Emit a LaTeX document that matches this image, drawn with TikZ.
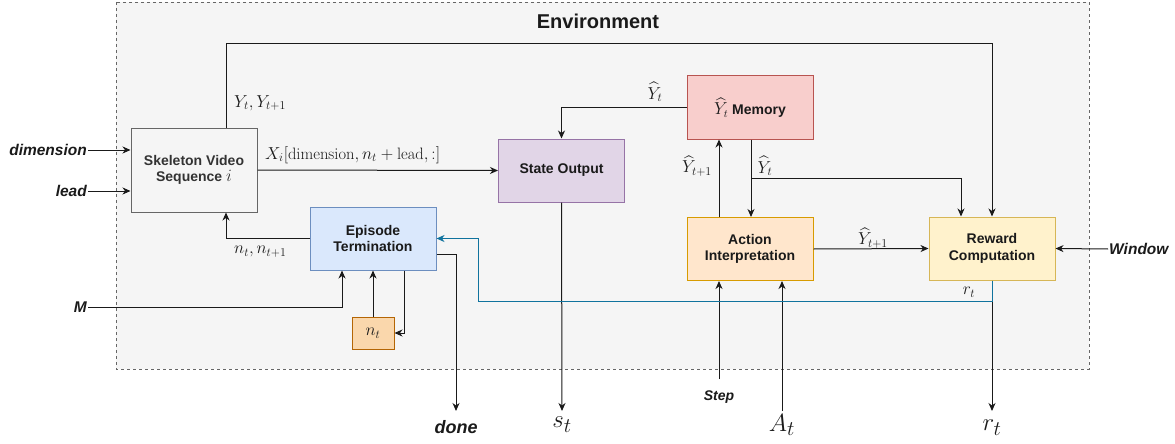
\documentclass[tikz,border=0pt]{standalone}
\usepackage{amsmath}
\usepackage{fontspec}
\setsansfont{Liberation Sans}
\usetikzlibrary{arrows.meta,calc}
\definecolor{envfill}{HTML}{F5F5F5}
\definecolor{envdraw}{HTML}{666666}
\definecolor{skfill}{HTML}{F5F5F5}
\definecolor{skdraw}{HTML}{666666}
\definecolor{sktext}{HTML}{333333}
\definecolor{epfill}{HTML}{DAE8FC}
\definecolor{epdraw}{HTML}{6C8EBF}
\definecolor{ntfill}{HTML}{FAD7AC}
\definecolor{ntdraw}{HTML}{B46504}
\definecolor{stfill}{HTML}{E1D5E7}
\definecolor{stdraw}{HTML}{9673A6}
\definecolor{mefill}{HTML}{F8CECC}
\definecolor{medraw}{HTML}{B85450}
\definecolor{acfill}{HTML}{FFE6CC}
\definecolor{acdraw}{HTML}{D79B00}
\definecolor{rwfill}{HTML}{FFF2CC}
\definecolor{rwdraw}{HTML}{D6B656}
\definecolor{linec}{HTML}{1A1A1A}
\definecolor{blueline}{HTML}{10739E}
\newcommand{\mth}[1]{{\fontsize{16}{19}\selectfont$#1$}}
\tikzset{
  blk/.style={draw, line width=1pt, minimum width=126pt, minimum height=63pt,
    align=center, inner sep=2pt, font=\sffamily\bfseries\fontsize{14}{16.5}\selectfont, text=linec},
  arr/.style={draw=linec, line width=1pt, -{Stealth[length=8pt,width=7pt,inset=2.5pt]}},
  arrblue/.style={draw=blueline, line width=1pt, -{Stealth[length=8pt,width=7pt,inset=2.5pt]}},
  inlab/.style={font=\sffamily\bfseries\itshape\fontsize{15.5}{18}\selectfont, text=linec, inner sep=1pt},
  smath/.style={font=\fontsize{16.5}{19}\selectfont, text=linec, inner sep=1pt},
  bmath/.style={font=\fontsize{30}{33}\selectfont, text=linec, inner xsep=1pt},
}
\begin{document}
\begin{tikzpicture}[x=1pt,y=-1pt]
\useasboundingbox (0,0) rectangle (1175,444);
% environment
\draw[draw=envdraw, fill=envfill, line width=0.8pt, dash pattern=on 3pt off 3pt] (116,2) rectangle (1089,369);
\node[font=\sffamily\bfseries\fontsize{20}{24}\selectfont, text=linec] (envt) at (598,21) {Environment};
% blocks
\node[blk, fill=skfill, draw=skdraw, text=sktext, minimum height=84pt] (skel) at (194,170) {Skeleton Video\\Sequence \mth{i}};
\node[blk, fill=epfill, draw=epdraw] (epi) at (373,238.5) {Episode\\Termination};
\node[blk, fill=ntfill, draw=ntdraw, minimum width=42pt, minimum height=32pt, font=\fontsize{16.5}{19}\selectfont] (nt) at (373,333) {$n_t$};
\node[blk, fill=stfill, draw=stdraw] (state) at (561.5,170.5) {State Output};
\node[blk, fill=mefill, draw=medraw] (mem) at (750,107.5) {\mth{\widehat{Y}_t} Memory};
\node[blk, fill=acfill, draw=acdraw] (act) at (750,249) {Action\\Interpretation};
\node[blk, fill=rwfill, draw=rwdraw] (rew) at (992,248.5) {Reward\\Computation};
% inputs / outputs
\node[inlab, anchor=east] (dim) at (88,150) {dimension};
\node[inlab, anchor=east] (lead) at (88,191) {lead};
\node[inlab, anchor=east] (M) at (88,307) {M};
\node[inlab, anchor=west] (win) at (1108,249) {Window};
\node[inlab, font=\sffamily\bfseries\itshape\fontsize{14}{16}\selectfont, anchor=north, inner ysep=12pt] (step) at (719,379) {Step};
\node[inlab, font=\sffamily\bfseries\itshape\fontsize{18}{20}\selectfont, anchor=north, inner ysep=9pt] (done) at (456,411) {done};
\node[bmath, anchor=north, inner ysep=6pt] (st) at (562,411) {$s_t$};
\node[bmath, anchor=north, inner ysep=3pt] (At) at (782,411) {$A_t$};
\node[bmath, anchor=north, inner ysep=9pt] (rt) at (992,411) {$r_t$};
\coordinate (topR) at (992,44);
\coordinate (br) at (751,178);
\coordinate (bl1) at (992,301);
\coordinate (bl2) at (478,301);
% connectors
\draw[arr] ($(skel.north)+(32,0)$) |- (topR) -- (rew.north);
\draw[arr] (skel.east) -- (state.west);
\draw[arr] (mem.west) -| (state.north);
\draw[arr] ($(act.north)+(-31,0)$) -- ($(mem.south)+(-31,0)$);
\draw[arr] ($(mem.south)+(1,0)$) -- ($(act.north)+(1,0)$);
\draw[arr] (br) -| ($(rew.north)+(-31,0)$);
\draw[arr] (act.east) -- (rew.west);
\draw[arr] (win.west) -- (rew.east);
\draw[arr] (dim.east) -- (dim.east -| skel.west);
\draw[arr] (lead.east) -- (lead.east -| skel.west);
\draw[arr] (epi.west) -| ($(skel.south)+(32,0)$);
\draw[arr] (M.east) -| ($(epi.south)+(-31,0)$);
\draw[arr] (nt.north) -- (epi.south);
\draw[arr] ($(epi.south)+(31,0)$) |- (nt.east);
\draw[arr] ($(epi.east)+(0,15.75)$) -| (done.north);
\draw[arr] (state.south) -- (st.north);
\draw[arr] (step.north) -- ($(act.south)+(-31,0)$);
\draw[arr] (At.north) -- ($(act.south)+(32,0)$);
\draw[arr] (rew.south) -- (rt.north);
\draw[arrblue] (rew.south) -- (bl1) -- (bl2) |- (epi.east);
% labels
\node[smath, anchor=west] (lY) at (233,103) {$Y_t, Y_{t+1}$};
\node[smath, anchor=west] (lX) at (264,155) {$X_i[\mathrm{dimension}, n_t+\mathrm{lead},:]$};
\node[smath] (lm1) at (655,92) {$\widehat{Y}_t$};
\node[smath] (lm2) at (697,166) {$\widehat{Y}_{t+1}$};
\node[smath] (lm3) at (765,166) {$\widehat{Y}_t$};
\node[smath] (lm4) at (873,238) {$\widehat{Y}_{t+1}$};
\node[smath] (lr) at (969,292) {$r_t$};
\node[smath, anchor=west] (ln) at (233,252) {$n_t, n_{t+1}$};
\end{tikzpicture}
\end{document}
